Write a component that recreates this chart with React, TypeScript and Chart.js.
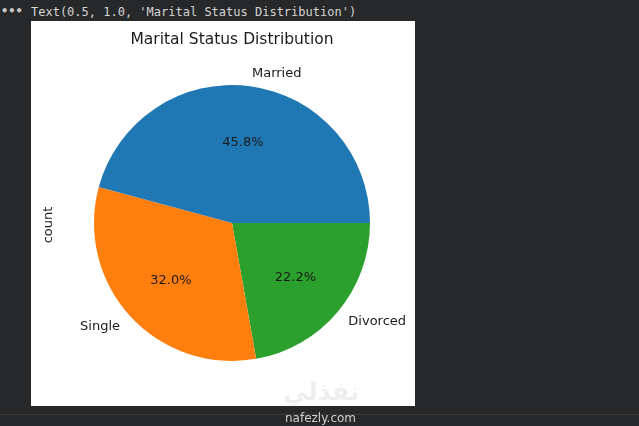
import React, { useEffect, useRef } from "react";
import { Chart, registerables } from "chart.js";

Chart.register(...registerables);

const categories = ["Married", "Single", "Divorced"];
const percentages = [45.8, 32.0, 22.2];
const colors = ["#1f77b4", "#ff7f0e", "#2ca02c"];
const titleText = "Marital Status Distribution";
const yLabel = "count";
const outputText = "Text(0.5, 1.0, 'Marital Status Distribution')";

const FONT = "'DejaVu Sans', sans-serif";

const labelPlugin = {
  id: "mplLabels",
  afterDraw(chart: any) {
    const ctx = chart.ctx as CanvasRenderingContext2D;
    const meta = chart.getDatasetMeta(0);
    const labels = chart.data.labels as string[];
    ctx.save();
    ctx.fillStyle = "#1a1a1a";
    meta.data.forEach((arc: any, i: number) => {
      const { x, y, startAngle, endAngle, outerRadius } = arc.getProps(
        ["x", "y", "startAngle", "endAngle", "outerRadius"],
        true
      );
      const mid = (startAngle + endAngle) / 2;
      const cos = Math.cos(mid);
      const sin = Math.sin(mid);
      ctx.font = `13px ${FONT}`;
      ctx.textBaseline = "alphabetic";
      const lx = x + outerRadius * 1.1 * cos;
      const ly = y + outerRadius * 1.1 * sin;
      ctx.textAlign = cos > 0 ? "left" : "right";
      ctx.fillText(labels[i], lx, ly + 4.8);
      const px = x + outerRadius * 0.6 * cos;
      const py = y + outerRadius * 0.6 * sin;
      ctx.textAlign = "center";
      const v = chart.data.datasets[0].data[i] as number;
      ctx.fillText(v.toFixed(1) + "%", px, py + 4.8);
    });
    ctx.font = `15.5px ${FONT}`;
    ctx.textAlign = "center";
    ctx.fillStyle = "#1a1a1a";
    ctx.fillText(titleText, 201, 22.5);
    ctx.save();
    ctx.translate(20.5, 204);
    ctx.rotate(-Math.PI / 2);
    ctx.font = `13px ${FONT}`;
    ctx.textAlign = "center";
    ctx.fillText(yLabel, 0, 0);
    ctx.restore();
    ctx.restore();
  },
};

export default function App() {
  const ref = useRef<HTMLCanvasElement>(null);

  useEffect(() => {
    document.body.style.margin = "0";
    if (!ref.current) return;
    // matplotlib draws counter-clockwise from 3 o'clock; Chart.js goes clockwise,
    // so feed the slices in reverse order starting at 3 o'clock.
    const order = categories.map((_, i) => categories.length - 1 - i);
    const chart = new Chart(ref.current, {
      type: "pie",
      data: {
        labels: order.map((i) => categories[i]),
        datasets: [
          {
            data: order.map((i) => percentages[i]),
            backgroundColor: order.map((i) => colors[i]),
            borderWidth: 0,
            hoverOffset: 0,
          },
        ],
      },
      options: {
        animation: false,
        responsive: false,
        maintainAspectRatio: false,
        rotation: 90,
        layout: { padding: { left: 63, top: 64, right: 45, bottom: 45 } },
        plugins: {
          legend: { display: false },
          tooltip: { enabled: false },
          title: { display: false },
        },
        events: [],
      },
      plugins: [labelPlugin],
    });
    return () => chart.destroy();
  }, []);

  return (
    <div
      style={{
        position: "fixed",
        left: 0,
        top: 0,
        width: 639,
        height: 426,
        background: "#27282a",
        overflow: "hidden",
      }}
    >
      <div
        style={{
          position: "absolute",
          left: 1,
          top: 4,
          color: "#c8c8c8",
          font: "bold 12px 'DejaVu Sans Mono', monospace",
        }}
      >
        •••
      </div>
      <div
        style={{
          position: "absolute",
          left: 31,
          top: 5,
          color: "#d4d4d4",
          font: "12px 'DejaVu Sans Mono', monospace",
          whiteSpace: "pre",
        }}
      >
        {outputText}
      </div>
      <div
        style={{
          position: "absolute",
          left: 31,
          top: 21,
          width: 384,
          height: 385,
          background: "#ffffff",
        }}
      >
        <canvas ref={ref} width={384} height={385} style={{ display: "block" }} />
      </div>
      <div
        style={{
          position: "absolute",
          left: 283,
          top: 377,
          color: "rgba(200,200,200,0.3)",
          font: "bold 25px 'DejaVu Sans', sans-serif",
          direction: "rtl",
        }}
      >
        نفذلي
      </div>
      <div
        style={{
          position: "absolute",
          left: 0,
          top: 414,
          width: 639,
          height: 1,
          background: "#3a3a3a",
        }}
      />
      <div
        style={{
          position: "absolute",
          left: 285,
          top: 411,
          color: "#d0d0d0",
          font: "12px 'DejaVu Sans', sans-serif",
        }}
      >
        nafezly.com
      </div>
    </div>
  );
}
